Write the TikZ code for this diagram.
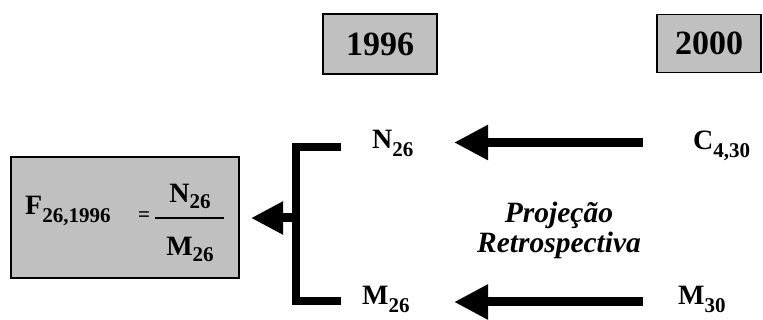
\documentclass[tikz,border=0pt]{standalone}
\usepackage{fontspec}
\setmainfont{Liberation Serif}
\usetikzlibrary{arrows.meta}
\definecolor{boxgray}{HTML}{C0C0C0}
\newcommand{\mysub}[2]{\raisebox{-#2pt}{\fontsize{21}{21}\selectfont #1}}
\begin{document}
\begin{tikzpicture}[x=1pt,y=-1pt,
  yearbox/.style={draw=black,line width=1.4pt,fill=boxgray,inner sep=0pt},
  lbl/.style={font=\fontsize{28}{28}\selectfont\bfseries,inner sep=0pt},
  bigarrow/.style={line width=9pt,-{Triangle[length=34pt,width=33pt]}},
  smallarrow/.style={line width=9pt,-{Triangle[length=32pt,width=31pt]}},
  bracket/.style={line width=8pt}]
\useasboundingbox (0,0) rectangle (763,320);
% year boxes
\node[yearbox,minimum width=114pt,minimum height=60pt,font=\fontsize{34}{34}\selectfont\bfseries] (y1996) at (380,44) {1996};
\node[yearbox,minimum width=104pt,minimum height=58pt,font=\fontsize{34}{34}\selectfont\bfseries] (y2000) at (709,43.5) {2000};
% result box
\node[yearbox,minimum width=228pt,minimum height=121pt] (fbox) at (125,217.5) {};
\node[lbl,anchor=base west] (F) at (25,215) {F\mysub{26,1996}{8}};
\node[inner sep=0pt,anchor=base,font=\fontsize{21}{21}\selectfont\bfseries] (eq) at (144,222) {=};
\coordinate (barL) at (155,218);
\coordinate (barR) at (224,218);
\draw[line width=1.4pt] (barL) -- (barR);
\node[lbl,anchor=base] (fN) at (190,203) {N\mysub{26}{6}};
\node[lbl,anchor=base] (fM) at (190,256) {M\mysub{26}{6}};
% labels
\node[lbl,anchor=base west] (N26) at (372,149) {N\mysub{26}{8}};
\node[lbl,anchor=base west] (C430) at (693,150) {C\mysub{4,30}{8}};
\node[lbl,anchor=base west] (M26) at (362,305) {M\mysub{26}{8}};
\node[lbl,anchor=base west] (M30) at (678,305) {M\mysub{30}{8}};
\node[inner sep=0pt,anchor=base,font=\fontsize{29.5}{29.5}\selectfont\bfseries\itshape] (proj) at (559,223) {Projeção};
\node[inner sep=0pt,anchor=base,font=\fontsize{29.5}{29.5}\selectfont\bfseries\itshape] (retro) at (559,253) {Retrospectiva};
% arrows
\coordinate (topS) at (643,142.5);
\coordinate (topE) at (454,142.5);
\coordinate (botS) at (643,302);
\coordinate (botE) at (454,302);
\draw[bigarrow] (topS) -- (topE);
\draw[bigarrow] (botS) -- (botE);
% bracket
\coordinate (brT) at (341,147);
\coordinate (brTL) at (296,147);
\coordinate (brBL) at (296,301);
\coordinate (brB) at (341,301);
\draw[bracket] (brT) -- (brTL) -- (brBL) -- (brB);
\coordinate (brM) at (296,218);
\coordinate (smE) at (251,218);
\draw[smallarrow] (brM) -- (smE);
\end{tikzpicture}
\end{document}
